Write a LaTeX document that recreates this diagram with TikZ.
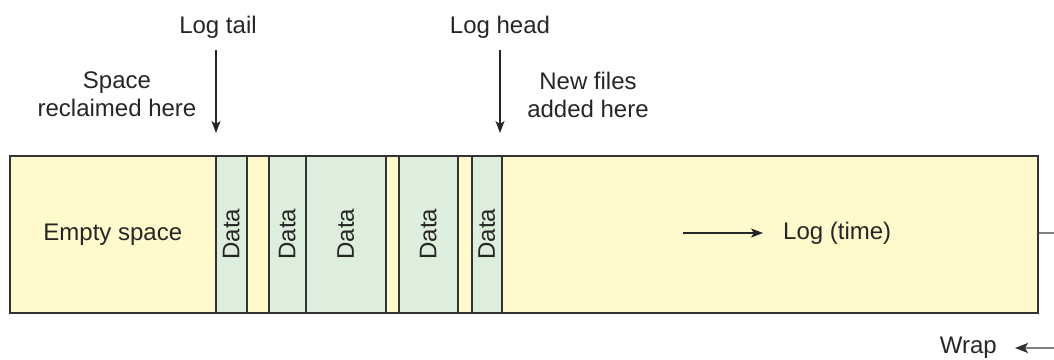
\documentclass[tikz,border=0pt]{standalone}
\usepackage{fontspec}
\setmainfont{Liberation Sans}
\usepackage{graphicx}
\usetikzlibrary{arrows.meta}
\definecolor{logyellow}{HTML}{FFF9CC}
\definecolor{datagreen}{HTML}{DEEEDC}
\definecolor{edgecol}{HTML}{333333}
\definecolor{wrapgray}{HTML}{808080}
\begin{document}
\begin{tikzpicture}[x=1pt,y=-1pt,font=\fontsize{24}{28}\selectfont,
  seg/.style={draw=edgecol,line width=1.6pt,minimum height=157pt,inner sep=0pt,anchor=north west,text=black!85},
  yel/.style={seg,fill=logyellow},
  grn/.style={seg,fill=datagreen},
  lbl/.style={inner sep=0pt,text=black!85,align=center},
  arr/.style={-{Stealth[length=12pt,width=9pt,inset=3pt]},line width=1.4pt,draw=black!85}]
\useasboundingbox (0,0) rectangle (1054,359);
% main log strip
\node[yel,minimum width=1028pt] (log) at (9,155) {};
\node[yel,minimum width=206pt] (empty) at (9,155) {Empty space};
\node[grn,minimum width=31pt] (d1) at (215,155) {\rotatebox{90}{Data}};
\node[yel,minimum width=22pt] (g1) at (246,155) {};
\node[grn,minimum width=37pt] (d2) at (268,155) {\rotatebox{90}{Data}};
\node[grn,minimum width=80pt] (d3) at (305,155) {\rotatebox{90}{Data}};
\node[yel,minimum width=13pt] (g2) at (385,155) {};
\node[grn,minimum width=59pt] (d4) at (398,155) {\rotatebox{90}{Data}};
\node[yel,minimum width=14pt] (g3) at (457,155) {};
\node[grn,minimum width=30pt] (d5) at (471,155) {\rotatebox{90}{Data}};
% log (time) arrow
\node[lbl,anchor=west] (time) at (783,233) {Log (time)};
\coordinate (timestart) at (683,233);
\draw[arr] (timestart) -- ([xshift=-20pt]time.west);
% top labels
\node[lbl] (tail) at (218,27) {Log tail};
\node[lbl] (head) at (500,27) {Log head};
\coordinate (tailtip) at (216,133);
\coordinate (headtip) at (500,133);
\draw[arr] ([yshift=-12pt]tailtip |- tail.south) -- (tailtip);
\draw[arr] ([yshift=-12pt]headtip |- head.south) -- (headtip);
\node[lbl] (reclaim) at (117,94) {Space\\reclaimed here};
\node[lbl] (newfiles) at (588,95) {New files\\added here};
% wrap
\coordinate (wrapout) at (1054,233);
\draw[wrapgray,line width=2.2pt] (log.east |- wrapout) -- (wrapout);
\node[lbl,anchor=east] (wrap) at (997,348) {Wrap};
\coordinate (wrapin) at (1054,348);
\draw[-{Stealth[length=13pt,width=10pt,inset=3pt,color=black!80]},line width=2.2pt,wrapgray,shorten >=18pt] (wrapin) -- (wrap.east);
\end{tikzpicture}
\end{document}
